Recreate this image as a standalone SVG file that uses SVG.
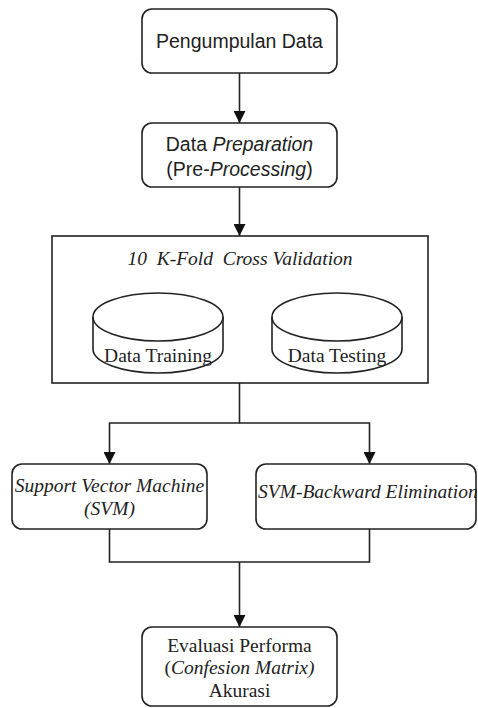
<svg xmlns="http://www.w3.org/2000/svg" width="478" height="708" viewBox="0 0 478 708">
<style>
.box{fill:#fff;stroke:#222;stroke-width:1.6}
.ln{fill:none;stroke:#222;stroke-width:1.6}
.sans{font-family:"Liberation Sans",Arial,sans-serif;font-size:19.5px;fill:#222;text-anchor:middle}
.serif{font-family:"Liberation Serif","Times New Roman",serif;font-size:19.5px;fill:#222;text-anchor:middle}
.it{font-style:italic}
</style>
<defs>
<marker id="arr" viewBox="0 0 12 12" refX="12" refY="6" markerWidth="12" markerHeight="12" markerUnits="userSpaceOnUse" orient="auto">
<path d="M0,0 L12,6 L0,12 Z" fill="#111"/>
</marker>
</defs>
<rect width="478" height="708" fill="#fff"/>
<g id="connectors">
<line class="ln" x1="239.5" y1="73" x2="239.5" y2="123" marker-end="url(#arr)"/>
<line class="ln" x1="239.5" y1="187" x2="239.5" y2="236" marker-end="url(#arr)"/>
<polyline class="ln" points="239.5,383 239.5,423 109.5,423 109.5,464" marker-end="url(#arr)"/>
<polyline class="ln" points="239.5,423 369.5,423 369.5,464" marker-end="url(#arr)"/>
<polyline class="ln" points="109.5,529 109.5,562 369.5,562 369.5,529"/>
<line class="ln" x1="239.5" y1="562" x2="239.5" y2="627" marker-end="url(#arr)"/>
</g>
<g id="n1">
<rect class="box" x="142" y="9" width="195" height="64" rx="10"/>
<text class="sans" x="239.5" y="48">Pengumpulan Data</text>
</g>
<g id="n2">
<rect class="box" x="142" y="123" width="195" height="64" rx="10"/>
<text class="sans" x="239.5" y="151">Data <tspan class="it">Preparation</tspan></text>
<text class="sans" x="239.5" y="176">(Pre-<tspan class="it">Processing</tspan>)</text>
</g>
<g id="n3">
<rect class="box" x="52" y="236" width="376" height="147"/>
<text class="serif it" x="240" y="265" xml:space="preserve">10  K-Fold  Cross Validation</text>
</g>
<g id="n3a">
<path class="box" d="M93,317 A65,24 0 0 1 223,317 L223,349 A65,24 0 0 1 93,349 Z"/>
<path class="ln" d="M93,317 A65,24 0 0 0 223,317"/>
<text class="serif" x="158" y="362">Data Training</text>
</g>
<g id="n3b">
<path class="box" d="M272,317 A65,24 0 0 1 402,317 L402,349 A65,24 0 0 1 272,349 Z"/>
<path class="ln" d="M272,317 A65,24 0 0 0 402,317"/>
<text class="serif" x="337" y="362">Data Testing</text>
</g>
<g id="n4">
<rect class="box" x="12" y="464" width="195" height="65" rx="10"/>
<text class="serif it" x="109.5" y="492">Support Vector Machine</text>
<text class="serif it" x="109.5" y="515">(SVM)</text>
</g>
<g id="n5">
<rect class="box" x="256" y="464" width="220" height="65" rx="10"/>
<text class="serif it" x="258" y="498" style="text-anchor:start">SVM-Backward Elimination</text>
</g>
<g id="n6">
<rect class="box" x="142" y="627" width="195" height="79" rx="10"/>
<text class="serif" x="239.5" y="652">Evaluasi Performa</text>
<text class="serif" x="239.5" y="674">(<tspan class="it">Confesion Matrix)</tspan></text>
<text class="serif" x="239.5" y="697">Akurasi</text>
</g>
</svg>
